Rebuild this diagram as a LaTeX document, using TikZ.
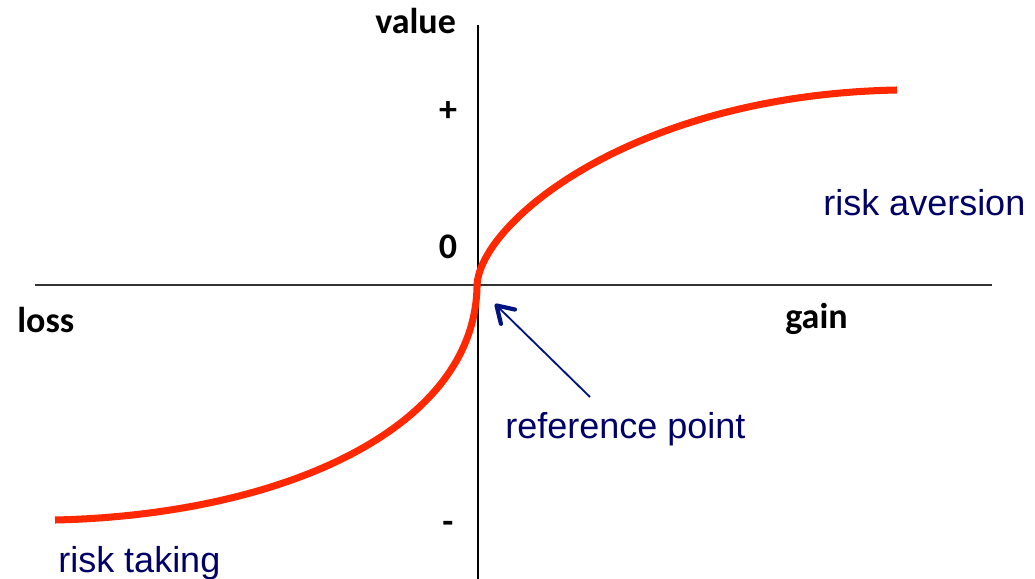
\documentclass[tikz,border=0pt]{standalone}
\usepackage{fontspec}
\newfontfamily\notefont{Liberation Sans}
\newfontfamily\axisfont{Carlito}
\usetikzlibrary{arrows.meta}
\definecolor{curvered}{RGB}{255,40,0}
\definecolor{notenavy}{RGB}{0,0,102}
\definecolor{arrownavy}{RGB}{0,20,128}

\begin{document}
\begin{tikzpicture}[x=0.025cm, y=-0.025cm,
	axislabel/.style={inner sep=0, font=\axisfont\bfseries\fontsize{25.6}{30}\selectfont},
	note/.style={inner sep=0, text=notenavy, font=\notefont\fontsize{25.6}{30}\selectfont},
	axisline/.style={line width=1.3pt}]
	\useasboundingbox (0,0) rectangle (1035,579);

	% Axes
	\coordinate (ytop) at (478,25);
	\coordinate (ybot) at (478,579);
	\coordinate (xleft) at (35,285);
	\coordinate (xright) at (992,285);
	\draw[axisline] (ytop) -- (ybot);
	\draw[axisline, black!80] (xleft) -- (xright);

	% Axis labels
	\node[axislabel, anchor=base west] (value) at (375,33) {value};
	\node[axislabel] (plus) at (448,112) {+};
	\node[axislabel] (zero) at (448,247) {0};
	\node[axislabel] (minus) at (448,527) {-};
	\node[axislabel, anchor=base west] (loss) at (17,332) {loss};
	\node[axislabel, anchor=base west] (gain) at (785,328) {gain};

	% Value curve
	\coordinate (lossend) at (55,520);
	\coordinate (origin) at (477,287);
	\coordinate (gainend) at (897,90);
	\draw[curvered, line width=5pt] (lossend) .. controls (280,515) and (474,430) .. (origin)
		.. controls (477,225) and (630,95) .. (gainend);

	% Notes
	\node[note, anchor=base west] (aversion) at (823,215) {risk aversion};
	\node[note, anchor=base west] (refpt) at (505,438) {reference point};
	\node[note, anchor=base west] (taking) at (58,572) {risk taking};

	% Arrow to reference point
	\coordinate (tail) at (590,397);
	\coordinate (tip) at (495,304);
	\draw[arrownavy, line width=1.3pt, -{Straight Barb[length=4mm, width=5mm, line width=3pt, round]}] (tail) -- (tip);
\end{tikzpicture}
\end{document}
